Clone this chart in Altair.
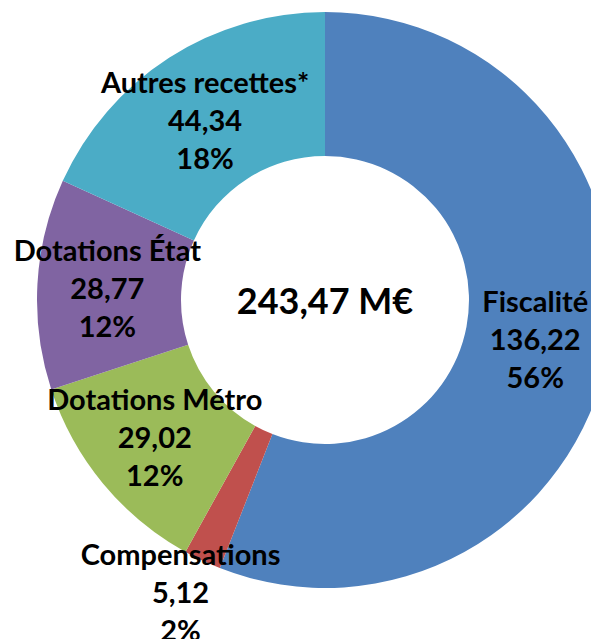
import altair as alt
import pandas as pd

categories = ["Fiscalité", "Compensations", "Dotations Métro", "Dotations État", "Autres recettes*"]
values = [136.22, 5.12, 29.02, 28.77, 44.34]
value_labels = ["136,22", "5,12", "29,02", "28,77", "44,34"]
pct_labels = ["56%", "2%", "12%", "12%", "18%"]
colors = ["#4F81BD", "#C0504D", "#9BBB59", "#8064A2", "#4BACC6"]
total_label = "243,47 M€"

df = pd.DataFrame({
    "cat": categories,
    "value": values,
    "idx": list(range(len(categories))),
    "label": [f"{c}\n{v}\n{p}" for c, v, p in zip(categories, value_labels, pct_labels)],
})

CX, CY = 317, 292

base = alt.Chart(df).encode(
    theta=alt.Theta("value:Q", stack=True),
    order=alt.Order("idx:Q"),
    x=alt.value(CX),
    y=alt.value(CY),
)

arcs = base.mark_arc(outerRadius=288, innerRadius=144, stroke=None).encode(
    color=alt.Color("cat:N", scale=alt.Scale(domain=categories, range=colors), legend=None)
)


def label_layer(cat, radius, dx=0, dy=0):
    return base.mark_text(
        radius=radius, dx=dx, dy=dy, font="Lato", fontWeight="bold", fontSize=29,
        lineBreak="\n", lineHeight=38, color="#000000", align="center", baseline="middle",
    ).encode(text=alt.condition(alt.datum.cat == cat, "label:N", alt.value("")))


labels = [
    label_layer("Fiscalité", 216, dx=-2, dy=-37),
    label_layer("Compensations", 358, dx=8, dy=-68),
    label_layer("Dotations Métro", 226, dx=4, dy=-43),
    label_layer("Dotations État", 218, dy=-36),
    label_layer("Autres recettes*", 216, dx=-3, dy=-34),
]

center = alt.Chart(pd.DataFrame({"t": [total_label]})).mark_text(
    font="Lato", fontSize=36, fontWeight="bold", color="#000000", align="center", baseline="middle", dy=3
).encode(text="t:N", x=alt.value(CX), y=alt.value(CY))

chart = alt.layer(arcs, *labels, center).properties(
    width=583, height=631, padding=0,
    autosize=alt.AutoSizeParams(type="none"),
    background="white",
).configure_view(stroke=None)

chart.save("out.html", embed_options={"renderer": "svg", "actions": False})
